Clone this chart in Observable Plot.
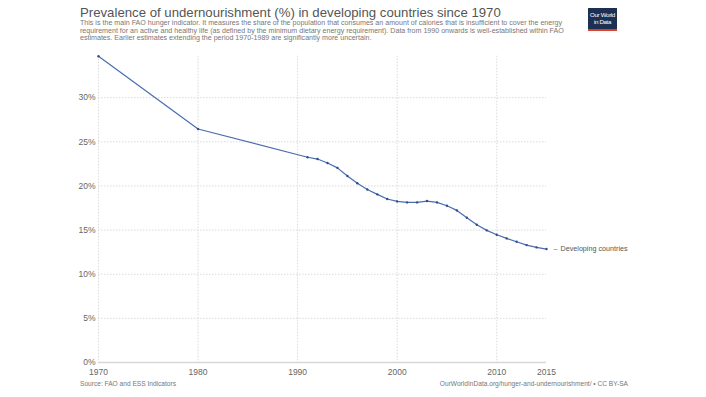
<!DOCTYPE html>
<html>
<head>
<meta charset="utf-8">
<script src="https://cdn.jsdelivr.net/npm/d3@7"></script>
<script src="https://cdn.jsdelivr.net/npm/@observablehq/plot@0.6"></script>
<style>
  html, body { margin: 0; padding: 0; background: #fff; }
  body { width: 706px; height: 397px; position: relative; overflow: hidden; font-family: "Liberation Sans", Arial, Helvetica, sans-serif; }
  #chart { position: absolute; left: 0; top: 0; }
  .abs { position: absolute; white-space: nowrap; }
  #title { left: 80px; top: 6px; font-size: 13.2px; line-height: 13.2px; color: #555; }
  #subtitle { left: 80px; top: 20.4px; font-size: 7.1px; line-height: 7.3px; color: #777; }
  #source { left: 80px; top: 379.5px; font-size: 6.6px; line-height: 7px; color: #777; }
  #credit { right: 78px; top: 380px; font-size: 6.6px; line-height: 7px; color: #777; text-align: right; }
  #logo { left: 588px; top: 8px; width: 29px; background: #1d2f52; border-bottom: 2px solid #d8432e;
          color: #fff; font-family: "Liberation Sans Narrow", "Liberation Sans", Arial, sans-serif; font-size: 6.2px; line-height: 7px;
          text-align: center; padding-top: 3px; box-sizing: content-box; height: 18px; letter-spacing: -0.35px; overflow: hidden; }
</style>
</head>
<body>
<div id="chart"></div>
<div id="title" class="abs">Prevalence of undernourishment (%) in developing countries since 1970</div>
<div id="subtitle" class="abs">This is the main FAO hunger indicator. It measures the share of the population that consumes an amount of calories that is insufficient to cover the energy<br>requirement for an active and healthy life (as defined by the minimum dietary energy requirement). Data from 1990 onwards is well-established within FAO<br>estimates. Earlier estimates extending the period 1970-1989 are significantly more uncertain.</div>
<div id="logo" class="abs">Our World<br>in Data</div>
<div id="source" class="abs">Source: FAO and ESS Indicators</div>
<div id="credit" class="abs">OurWorldInData.org/hunger-and-undernourishment/ • CC BY-SA</div>
<script>
const seriesName = "Developing countries";
const years = [1970, 1980, 1991, 1992, 1993, 1994, 1995, 1996, 1997, 1998, 1999, 2000, 2001, 2002, 2003, 2004, 2005, 2006, 2007, 2008, 2009, 2010, 2011, 2012, 2013, 2014, 2015];
const values = [34.7, 26.45, 23.25, 23.05, 22.6, 22.05, 21.12, 20.3, 19.6, 19.05, 18.52, 18.25, 18.14, 18.14, 18.29, 18.14, 17.76, 17.23, 16.4, 15.6, 14.97, 14.47, 14.06, 13.68, 13.3, 13.04, 12.85];
const xTicks = [1970, 1980, 1990, 2000, 2010, 2015];
const xGrid = [1970, 1980, 1990, 2000, 2010];
const yTicks = [0, 5, 10, 15, 20, 25, 30];

const data = years.map((y, i) => ({year: y, value: values[i]}));
const last = data[data.length - 1];
const blue = "#4a6db0";

const chart = Plot.plot({
  width: 706,
  height: 397,
  marginLeft: 98,
  marginRight: 160,
  marginTop: 55.7,
  marginBottom: 35,
  style: {fontFamily: "'Liberation Sans', Arial, Helvetica, sans-serif", fontSize: "8.5px", background: "transparent"},
  x: {domain: [1970, 2015]},
  y: {domain: [0, d3.max(values)]},
  marks: [
    Plot.gridX(xGrid, {stroke: "#dadada", strokeOpacity: 1, strokeDasharray: "1.5,1.5"}),
    Plot.gridY(yTicks.filter(d => d > 0), {stroke: "#dadada", strokeOpacity: 1, strokeDasharray: "1.5,1.5"}),
    Plot.ruleY([0], {stroke: "#d8d8d8", strokeWidth: 1.3}),
    Plot.axisY({ticks: yTicks, tickFormat: d => d + "%", tickSize: 0, tickPadding: 3, label: null, color: "#666"}),
    Plot.axisX({ticks: xTicks, tickFormat: d => String(d), tickSize: 0, tickPadding: 6, label: null, color: "#666"}),
    Plot.line(data, {x: "year", y: "value", stroke: blue, strokeWidth: 1.2}),
    Plot.dot(data, {x: "year", y: "value", r: 1.2, fill: "#2f4f8f", stroke: "none"}),
    Plot.text([last], {x: "year", y: "value", text: () => "–", dx: 7, textAnchor: "start", fill: blue, fontSize: 7}),
    Plot.text([last], {x: "year", y: "value", text: () => seriesName, dx: 14, textAnchor: "start", fill: "#555", fontSize: 7.2})
  ]
});
document.getElementById("chart").appendChild(chart);
</script>
</body>
</html>
